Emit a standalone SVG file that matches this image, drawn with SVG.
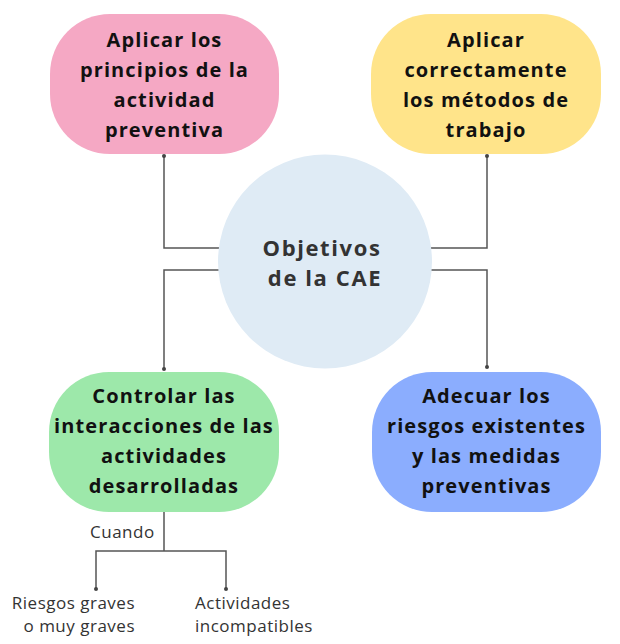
<svg xmlns="http://www.w3.org/2000/svg" width="620" height="644" viewBox="0 0 620 644">
<style>
.box{stroke:none}
.t{font-family:"Open Sans","Liberation Sans",sans-serif;font-weight:700;font-size:20px;letter-spacing:1.1px;fill:#111;text-anchor:middle}
.c{font-family:"Open Sans","Liberation Sans",sans-serif;font-weight:700;font-size:22px;letter-spacing:1.6px;fill:#333;text-anchor:middle}
.s{font-family:"Open Sans","Liberation Sans",sans-serif;font-size:17px;letter-spacing:0.5px;fill:#333}
.ln{fill:none;stroke:#555;stroke-width:1.5}
.dot{fill:#444}
</style>
<rect width="620" height="644" fill="#fff"/>
<g id="connectors">
<polyline class="ln" points="164,156 164,248 220,248"/>
<polyline class="ln" points="220,270 164,270 164,369"/>
<polyline class="ln" points="487,156 487,248 431,248"/>
<polyline class="ln" points="431,270 487,270 487,367"/>
<polyline class="ln" points="164,512 164,551"/>
<polyline class="ln" points="96,589 96,551 226,551 226,589"/>
<circle class="dot" cx="164" cy="156" r="2"/>
<circle class="dot" cx="487" cy="156" r="2"/>
<circle class="dot" cx="164" cy="369" r="2"/>
<circle class="dot" cx="487" cy="367" r="2"/>
<circle class="dot" cx="96" cy="589" r="2"/>
<circle class="dot" cx="226" cy="589" r="2"/>
<text class="s" x="90" y="538">Cuando</text>
</g>
<g id="center">
<circle cx="325" cy="261.5" r="107" fill="#DFEBF5"/>
<text class="c" x="322" y="256">Objetivos</text>
<text class="c" x="325" y="286">de la CAE</text>
</g>
<g id="n1">
<rect class="box" x="50" y="14" width="229" height="140" rx="60" fill="#F5A8C4"/>
<text class="t" x="164.5" y="47">Aplicar los</text>
<text class="t" x="164.5" y="77">principios de la</text>
<text class="t" x="164.5" y="107">actividad</text>
<text class="t" x="164.5" y="137">preventiva</text>
</g>
<g id="n2">
<rect class="box" x="371" y="14" width="230" height="140" rx="60" fill="#FFE48A"/>
<text class="t" x="486" y="47">Aplicar</text>
<text class="t" x="486" y="77">correctamente</text>
<text class="t" x="486" y="107">los métodos de</text>
<text class="t" x="486" y="137">trabajo</text>
</g>
<g id="n3">
<rect class="box" x="49" y="372" width="230" height="140" rx="60" fill="#9DE8AA"/>
<text class="t" x="164" y="403">Controlar las</text>
<text class="t" x="164" y="433">interacciones de las</text>
<text class="t" x="164" y="463">actividades</text>
<text class="t" x="164" y="493">desarrolladas</text>
</g>
<g id="n4">
<rect class="box" x="372" y="372" width="229" height="140" rx="60" fill="#8BADFE"/>
<text class="t" x="486.5" y="403">Adecuar los</text>
<text class="t" x="486.5" y="433">riesgos existentes</text>
<text class="t" x="486.5" y="463">y las medidas</text>
<text class="t" x="486.5" y="493">preventivas</text>
</g>
<g id="leaf1">
<text class="s" x="135" y="609" text-anchor="end">Riesgos graves</text>
<text class="s" x="135" y="632" text-anchor="end">o muy graves</text>
</g>
<g id="leaf2">
<text class="s" x="195" y="609">Actividades</text>
<text class="s" x="195" y="632">incompatibles</text>
</g>
</svg>
